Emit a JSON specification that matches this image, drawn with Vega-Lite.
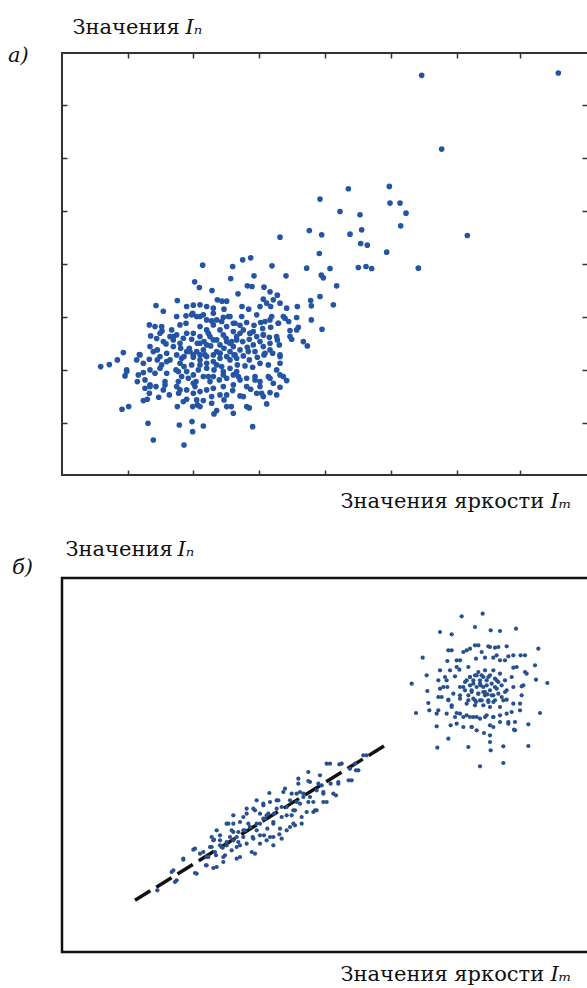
{
"$schema": "https://vega.github.io/schema/vega-lite/v6.json",
"autosize": "none",
"padding": {"left": 62, "top": 53, "right": 525, "bottom": 935},
"background": "white",
"spacing": 103,
"bounds": "flush",
"datasets": {
"a": [
{"x":108.5,"y":119.8},{"x":149.5,"y":120.5},{"x":114.5,"y":97.7},{"x":86.5,"y":85.8},{"x":98.8,"y":86.5},{"x":78,"y":82.7},{"x":99,"y":81.5},{"x":102,"y":81.5},{"x":84,"y":79},{"x":103.8,"y":78.5},{"x":90,"y":78},{"x":102.2,"y":74.7},{"x":74.8,"y":73.3},{"x":78.5,"y":72},{"x":87,"y":72.2},{"x":90.5,"y":73.5},{"x":122.2,"y":71.8},{"x":66,"y":71.3},{"x":90.2,"y":69.4},{"x":92.2,"y":68.9},{"x":77.8,"y":66.4},{"x":98,"y":66.8},
{"x":57.2,"y":65.1},{"x":54.8,"y":64.5},{"x":42.8,"y":62.9},{"x":51.8,"y":62.5},{"x":63.6,"y":62.7},{"x":74,"y":62},{"x":81,"y":61.9},{"x":89.5,"y":62.2},{"x":91.8,"y":62.5},{"x":93.5,"y":61.9},{"x":107.5,"y":62},
{"x":40.4,"y":57.9},{"x":51.2,"y":58.9},{"x":58.2,"y":59.7},{"x":67.8,"y":59.7},{"x":78.4,"y":59.9},{"x":79,"y":59.1},{"x":41.8,"y":56.2},{"x":45.6,"y":55.3},{"x":56.2,"y":56.7},{"x":57.6,"y":56.5},{"x":61.2,"y":56.3},{"x":63,"y":54.9},{"x":83,"y":56.7},{"x":53.4,"y":54.3},{"x":65.2,"y":53.9},
{"x":35.2,"y":52.3},{"x":47.2,"y":52.5},{"x":50,"y":52.1},{"x":48.6,"y":52.1},{"x":61,"y":52.7},{"x":64,"y":52.5},{"x":66,"y":51.5},{"x":68,"y":50},{"x":71.2,"y":50.5},{"x":75.4,"y":50.7},{"x":75.2,"y":52.3},{"x":78,"y":53.5},{"x":82,"y":51},{"x":28.8,"y":50.8},{"x":31,"y":49.1},{"x":38,"y":50.5},{"x":40,"y":50.9},{"x":42,"y":51},{"x":44,"y":50.5},{"x":46,"y":50},{"x":49.2,"y":49.7},{"x":54.6,"y":50.5},{"x":56.6,"y":49.7},{"x":60,"y":50.5},{"x":62,"y":51.5},{"x":63.2,"y":50.5},
{"x":26.8,"y":45},{"x":28.5,"y":44.5},{"x":30.6,"y":43.2},{"x":33.5,"y":43.5},{"x":36,"y":45},{"x":37.8,"y":45.5},{"x":39.8,"y":48.5},{"x":41,"y":47.5},{"x":43,"y":48},{"x":45.5,"y":46.2},{"x":47,"y":46.5},{"x":49,"y":47.3},{"x":51,"y":47.5},{"x":52,"y":45.5},{"x":50,"y":44.5},{"x":54,"y":44.9},{"x":56,"y":45.7},{"x":58.2,"y":44.9},{"x":60.2,"y":45.7},{"x":60.8,"y":43.9},{"x":63,"y":46.5},{"x":63.2,"y":44.3},{"x":65.5,"y":45.5},{"x":67,"y":47.5},{"x":68.6,"y":46},{"x":71,"y":47.2},{"x":71.5,"y":44.3},{"x":75.4,"y":46.5},{"x":78.6,"y":43.7},{"x":37.8,"y":47.7},{"x":42,"y":44.5},{"x":44,"y":43.5},{"x":46,"y":45},{"x":48,"y":43.5},{"x":52,"y":43},{"x":55,"y":43.5},{"x":58,"y":43},
{"x":27.2,"y":41.7},{"x":29,"y":40.9},{"x":31,"y":40},{"x":33,"y":41.5},{"x":35,"y":42},{"x":37,"y":41},{"x":39.5,"y":40.7},{"x":41.2,"y":39.5},{"x":43.2,"y":40},{"x":45,"y":41.5},{"x":47,"y":40.5},{"x":49.8,"y":41},{"x":51.5,"y":40},{"x":53,"y":40.5},{"x":54.8,"y":40},{"x":56.8,"y":40.7},{"x":59,"y":41.5},{"x":61,"y":42},{"x":62.8,"y":41.3},{"x":65.2,"y":40.5},{"x":69,"y":43.3},{"x":69.5,"y":40.7},{"x":73,"y":40},{"x":74.2,"y":38.7},{"x":27,"y":38.5},{"x":29.2,"y":37.5},{"x":31.8,"y":39.3},{"x":34,"y":38.5},{"x":36.2,"y":38},{"x":38.8,"y":38},{"x":41,"y":37},{"x":43,"y":37.5},{"x":45.2,"y":38.7},{"x":47,"y":37},{"x":49.2,"y":38},{"x":51,"y":37},{"x":54,"y":37.5},{"x":56.2,"y":38.3},{"x":58.5,"y":37},{"x":61,"y":38.5},{"x":63,"y":37.5},{"x":65.8,"y":39},{"x":19,"y":36.7},{"x":23.8,"y":36.1},
{"x":17.2,"y":34.5},{"x":14.8,"y":33.1},{"x":12.2,"y":32.5},{"x":20,"y":31},{"x":19.5,"y":29.7},{"x":23,"y":34.5},{"x":25,"y":33.5},{"x":26.8,"y":34.7},{"x":29.2,"y":34.5},{"x":30.5,"y":33},{"x":33,"y":34.5},{"x":35,"y":36},{"x":37.2,"y":35.5},{"x":40,"y":35.3},{"x":42,"y":34.5},{"x":44,"y":35.5},{"x":46,"y":34},{"x":48,"y":35},{"x":50,"y":35.5},{"x":52.2,"y":36},{"x":55,"y":35.7},{"x":56.8,"y":34.5},{"x":59.2,"y":35.3},{"x":61.2,"y":36},{"x":63.8,"y":36.5},{"x":66,"y":35.5},{"x":66,"y":33.5},{"x":27,"y":31.5},{"x":30,"y":32},{"x":32,"y":30.5},{"x":34.8,"y":31.5},{"x":37.2,"y":32.5},{"x":39.5,"y":33},{"x":41.5,"y":31.5},{"x":44,"y":32},{"x":46.2,"y":31.5},{"x":48.5,"y":32.5},{"x":51,"y":32},{"x":53.2,"y":33},{"x":55.5,"y":32.7},{"x":57.8,"y":32.3},{"x":60,"y":33.5},{"x":62.5,"y":33},{"x":65,"y":31.5},{"x":25,"y":30.7},
{"x":23.2,"y":28},{"x":25.5,"y":28.5},{"x":27,"y":27},{"x":28.8,"y":26.5},{"x":31.5,"y":28},{"x":35.5,"y":28},{"x":36.5,"y":29.5},{"x":38.5,"y":29},{"x":40.8,"y":28},{"x":43,"y":29.5},{"x":45,"y":28},{"x":47.8,"y":28.5},{"x":50,"y":29},{"x":52,"y":30},{"x":54,"y":28.5},{"x":56,"y":29},{"x":58.5,"y":29.5},{"x":60,"y":28},{"x":63,"y":29},{"x":66,"y":30},{"x":68,"y":28.3},{"x":64,"y":27.5},
{"x":25.5,"y":26},{"x":26.8,"y":24.5},{"x":29.6,"y":23.3},{"x":32.8,"y":24},{"x":35.6,"y":24.5},{"x":38,"y":25.5},{"x":40,"y":24.5},{"x":42,"y":25},{"x":44,"y":25.5},{"x":46,"y":26},{"x":48,"y":24},{"x":51.8,"y":25.3},{"x":54,"y":23.7},{"x":57.2,"y":25.7},{"x":60,"y":26.5},{"x":63,"y":24.7},{"x":66,"y":26.3},{"x":25,"y":22.3},{"x":26.2,"y":22.7},{"x":35.2,"y":20.5},{"x":38,"y":22.7},{"x":39.8,"y":20.5},{"x":41.2,"y":21},{"x":43,"y":22.3},{"x":45.5,"y":21.5},{"x":49.2,"y":22.5},{"x":51.4,"y":20.5},{"x":56.8,"y":20.1},{"x":62,"y":21.3},{"x":18.6,"y":19.7},{"x":20.6,"y":20.5},{"x":42,"y":20.5},{"x":47,"y":19.3},
{"x":46.2,"y":18.3},{"x":52,"y":18.5},{"x":26.4,"y":15.5},{"x":35.8,"y":15},{"x":39.6,"y":16},{"x":43,"y":14.7},{"x":57.8,"y":14.5},{"x":39.8,"y":13},{"x":28,"y":10.5},{"x":37.2,"y":9},
{"x":40,"y":42.5},{"x":42,"y":41.5},{"x":44,"y":39},{"x":46,"y":40.5},{"x":48,"y":39},{"x":50,"y":40},{"x":52,"y":38.5},{"x":38,"y":37},{"x":40,"y":36},{"x":42,"y":36},{"x":46,"y":36},{"x":48,"y":36.5},{"x":51,"y":34.5},{"x":53,"y":35},{"x":44,"y":33.5},{"x":42,"y":33},{"x":47,"y":33},{"x":49,"y":31},{"x":53,"y":31},{"x":36,"y":33.5},{"x":38,"y":31},{"x":40,"y":27.5},{"x":46,"y":29.5},{"x":52,"y":27},{"x":49,"y":26.5},{"x":56,"y":26.5},{"x":54,"y":42.5},{"x":57,"y":42.5},{"x":60,"y":40},{"x":58,"y":39},{"x":34,"y":40.5},{"x":32,"y":36.5},{"x":30,"y":35.5},{"x":35,"y":26.5},{"x":31,"y":25.5},{"x":59,"y":24.5},{"x":61,"y":23.5},
{"x":30.5,"y":44.5},{"x":35,"y":47.5},{"x":39.5,"y":48},{"x":42,"y":47.5},{"x":46,"y":48.5},{"x":50.5,"y":47.5},{"x":54.5,"y":47.5},{"x":59,"y":48},{"x":63.5,"y":47.5},{"x":67.5,"y":47},{"x":44,"y":46.5},{"x":48.5,"y":46},{"x":52.5,"y":45.5},{"x":61.5,"y":46},{"x":65.5,"y":45.5},
{"x":30,"y":42.5},{"x":34,"y":41.5},{"x":38,"y":42.5},{"x":42,"y":39.5},{"x":44.5,"y":42.5},{"x":49,"y":42},{"x":53,"y":41.5},{"x":57,"y":42.5},{"x":61,"y":42},{"x":65,"y":41.5},{"x":69,"y":41.5},{"x":71,"y":43.5},{"x":36,"y":39.5},{"x":51,"y":39.5},{"x":63,"y":39.5},
{"x":24,"y":36},{"x":28,"y":37},{"x":32,"y":34},{"x":36.5,"y":35},{"x":39,"y":37},{"x":43.5,"y":36},{"x":48,"y":36.5},{"x":52.5,"y":36},{"x":56.5,"y":37},{"x":61.5,"y":36.5},{"x":66,"y":36},
{"x":20,"y":31.5},{"x":23.5,"y":30},{"x":28.5,"y":30.5},{"x":35.5,"y":31},{"x":40,"y":30},{"x":44.5,"y":29.5},{"x":49,"y":30},{"x":53.5,"y":29.5},{"x":58.5,"y":28.5},{"x":62.5,"y":29.5},{"x":67,"y":29.5},
{"x":27,"y":26.5},{"x":31.5,"y":27},{"x":36,"y":25.5},{"x":40.5,"y":26.5},{"x":45.5,"y":23.5},{"x":50,"y":24},{"x":55,"y":23.5},{"x":60.5,"y":24.5},{"x":65,"y":24},{"x":41,"y":22.5},{"x":50,"y":20.5},{"x":56,"y":20.5},{"x":37,"y":22}
],
"bl": [{"x":22.5,"y":15.5},{"x":97.5,"y":62}],
"b": [
{"x":120.5,"y":100.7},{"x":126.8,"y":101.5},{"x":114,"y":96},{"x":117.5,"y":95.3},{"x":124.5,"y":97.5},{"x":129.2,"y":96.5},{"x":132,"y":96.3},{"x":136.8,"y":97},{"x":108.8,"y":88.3},{"x":105.5,"y":80.5},{"x":106.8,"y":71.7},{"x":110,"y":83},{"x":110.2,"y":78.3},{"x":110.5,"y":74.7},{"x":113,"y":71.5},{"x":113,"y":67.7},{"x":113.2,"y":61.3},{"x":116.5,"y":64},{"x":117.2,"y":68},{"x":121,"y":67.5},{"x":122.5,"y":61.5},{"x":125,"y":66.5},{"x":127.2,"y":65.7},{"x":126,"y":55.7},{"x":129,"y":63},{"x":129.2,"y":60.5},{"x":133,"y":61.7},{"x":133,"y":56.7},{"x":136.2,"y":66.7},{"x":136.5,"y":69},{"x":140.5,"y":68.3},{"x":140.5,"y":61.8},{"x":144,"y":71.7},{"x":146.2,"y":80.7},{"x":143.5,"y":91},{"x":142.5,"y":86},{"x":142.8,"y":81.7},{"x":138.2,"y":89},{"x":139.5,"y":84},{"x":138.5,"y":79.7},{"x":138,"y":74.5},{"x":136,"y":85.3},{"x":134,"y":91.7},{"x":130.5,"y":91.3},{"x":128.5,"y":91.7},{"x":125.5,"y":92},{"x":123,"y":91},{"x":121,"y":90},{"x":116.5,"y":90.5},{"x":116.2,"y":87.3},{"x":119,"y":87.5},{"x":114,"y":84.5},{"x":116,"y":81.5},{"x":113.5,"y":76.5},{"x":114,"y":79},{"x":116.2,"y":79.5},{"x":118.5,"y":82.7},{"x":119.8,"y":84.7},{"x":122.5,"y":85.5},{"x":124.8,"y":88},{"x":127.5,"y":88.3},{"x":130,"y":88.3},{"x":132,"y":87.5},{"x":134.5,"y":88.7},{"x":135.5,"y":82.5},{"x":136,"y":79.5},{"x":134,"y":75.7},{"x":132,"y":73.5},{"x":130,"y":70.5},{"x":127.5,"y":70.5},{"x":125,"y":70.5},{"x":123,"y":70.5},{"x":121,"y":70.5},{"x":119,"y":71.7},{"x":117.5,"y":74},{"x":116.5,"y":75.7},{"x":118,"y":77.5},{"x":120,"y":79.5},{"x":121.5,"y":81},{"x":123,"y":82.5},{"x":125.5,"y":84},{"x":127.5,"y":84.5},{"x":130,"y":84.5},{"x":132,"y":83.5},{"x":133.5,"y":81.5},{"x":134,"y":78.5},{"x":132.5,"y":76.5},{"x":130,"y":75},{"x":127,"y":74},{"x":124.5,"y":74},{"x":122,"y":74.5},{"x":120,"y":76},{"x":118.5,"y":70.5},{"x":116,"y":71.5},{"x":130,"y":67.5},{"x":132,"y":69},{"x":134.5,"y":69},{"x":129,"y":65},{"x":123.5,"y":67.5},{"x":135.5,"y":72},{"x":110.8,"y":72.5},
{"x":124,"y":81.5},{"x":126,"y":81.5},{"x":128,"y":81.5},{"x":129.5,"y":80.5},{"x":125,"y":79.5},{"x":127,"y":79.5},{"x":129,"y":78.5},{"x":123.5,"y":78.5},{"x":125.5,"y":77.5},{"x":127.5,"y":77},{"x":130,"y":77},{"x":124,"y":76},{"x":126,"y":75.5},{"x":128.5,"y":75.5},{"x":123,"y":80},{"x":131,"y":79},{"x":128.5,"y":82.5},{"x":126.5,"y":83},{"x":124.5,"y":83},{"x":122.5,"y":77},{"x":131.5,"y":81},{"x":127,"y":78},{"x":126.2,"y":80},{"x":128.2,"y":77.3},{"x":124.8,"y":75},{"x":130.5,"y":82},{"x":121.5,"y":78.5},{"x":129,"y":73.5},
{"x":123,"y":82.5},{"x":125,"y":83},{"x":127,"y":82.5},{"x":129,"y":83},{"x":131,"y":81.5},{"x":124,"y":80.5},{"x":126,"y":80.5},{"x":128,"y":80},{"x":130.5,"y":79.5},{"x":132.5,"y":80},{"x":123.5,"y":78},{"x":125.5,"y":77.5},{"x":127.5,"y":78},{"x":129.5,"y":77},{"x":131.5,"y":77.5},{"x":124.5,"y":75.5},{"x":126.5,"y":75.5},{"x":128.5,"y":75},{"x":130.5,"y":75.5},{"x":122.5,"y":75.5},{"x":121,"y":79.5},{"x":122,"y":81.5},{"x":133.5,"y":78},{"x":120,"y":77},{"x":133,"y":75.5},
{"x":117.5,"y":90.5},{"x":120,"y":87.5},{"x":122,"y":90.5},{"x":124.5,"y":92},{"x":126.5,"y":90},{"x":129,"y":91.5},{"x":131.5,"y":91.5},{"x":131,"y":89},{"x":133.5,"y":87.5},{"x":136,"y":89},{"x":137,"y":85.5},{"x":139.5,"y":89},{"x":140,"y":83.5},{"x":139,"y":80},{"x":138.5,"y":77},{"x":136,"y":74.5},{"x":138,"y":72.5},{"x":134,"y":71.5},{"x":132,"y":71},{"x":130,"y":70.5},{"x":128,"y":71},{"x":126,"y":70},{"x":124,"y":70.5},{"x":122,"y":71},{"x":120,"y":71.5},{"x":117.5,"y":73.5},{"x":116.5,"y":75.5},{"x":115,"y":79.5},{"x":115.5,"y":82.5},{"x":117,"y":84.5},{"x":119,"y":85.5},{"x":113.5,"y":81.5},{"x":114.5,"y":76.5},{"x":113.5,"y":72.5},{"x":119,"y":68.5},{"x":123.5,"y":67.5},{"x":129,"y":68},{"x":134.5,"y":68.5},{"x":136.5,"y":66.5},
{"x":29.2,"y":18.5},{"x":33.5,"y":24},{"x":34.5,"y":21},{"x":37,"y":27.7},{"x":40.5,"y":23.7},{"x":40,"y":30.7},{"x":43.8,"y":26},{"x":46,"y":25.2},{"x":44.5,"y":28.5},{"x":43,"y":30},{"x":45.5,"y":31.5},{"x":46.2,"y":33.7},{"x":48,"y":35},{"x":49,"y":27},{"x":49.5,"y":29},{"x":48.8,"y":31.3},{"x":50,"y":33},{"x":51,"y":34.5},{"x":52,"y":36},{"x":51.5,"y":30.5},{"x":53,"y":31.5},{"x":52,"y":38.5},{"x":53.5,"y":33},{"x":54,"y":28.5},{"x":55,"y":34.5},{"x":55.5,"y":36.5},{"x":55,"y":40.5},{"x":56,"y":43},{"x":56.5,"y":38.5},{"x":57.8,"y":34.5},{"x":57.5,"y":30},{"x":59,"y":36.5},{"x":60,"y":38.5},{"x":60,"y":41.5},{"x":61,"y":44.5},{"x":61.5,"y":40},{"x":62.2,"y":37},{"x":63,"y":34.5},{"x":64,"y":38.5},{"x":64.2,"y":41.5},{"x":62.8,"y":47.7},{"x":65,"y":43},{"x":65.5,"y":45.5},{"x":66.5,"y":40.5},{"x":67,"y":48},{"x":68,"y":43.5},{"x":69,"y":45.5},{"x":69.5,"y":41},{"x":70,"y":38.5},{"x":71,"y":47.5},{"x":71.5,"y":52},{"x":72,"y":44.5},{"x":73,"y":47.5},{"x":74,"y":42},{"x":74.5,"y":51.3},{"x":75,"y":46.5},{"x":76.5,"y":42.5},{"x":77,"y":48.5},{"x":77.5,"y":50.5},{"x":79,"y":47.5},{"x":79,"y":45},{"x":80,"y":56.5},{"x":81.2,"y":50.5},{"x":82.8,"y":47},{"x":83.8,"y":56.3},{"x":83.5,"y":51},{"x":86.6,"y":51.5},{"x":88.8,"y":54.5},{"x":88.5,"y":56.5},{"x":91,"y":59},{"x":62,"y":41},{"x":58.5,"y":42.5},{"x":57,"y":37.5},{"x":53.5,"y":36},{"x":50.5,"y":38.5},{"x":48,"y":32},{"x":46.8,"y":29},{"x":45.5,"y":34.5},{"x":60,"y":32.5},{"x":64,"y":32},{"x":61.2,"y":35},{"x":65.8,"y":35.3},{"x":69,"y":37.5},{"x":70.5,"y":42.5},{"x":72.5,"y":40.5},{"x":76,"y":45},{"x":74.5,"y":54},
{"x":52,"y":41},{"x":54,"y":39},{"x":56,"y":41.5},{"x":58,"y":43},{"x":59,"y":45.5},{"x":61,"y":44},{"x":63,"y":45},{"x":65,"y":45.5},{"x":66.5,"y":43.5},{"x":68,"y":41},{"x":70,"y":42.5},{"x":71,"y":45},{"x":73,"y":46.5},{"x":72,"y":48},{"x":74.5,"y":45},{"x":76,"y":42},{"x":77,"y":42.5},{"x":79,"y":48},{"x":80,"y":45},{"x":82,"y":47.5},{"x":50,"y":38.5},{"x":51.5,"y":36.5},{"x":53,"y":34.5},{"x":55,"y":36.5},{"x":57,"y":37.5},{"x":59,"y":38.5},{"x":61,"y":40},{"x":62.5,"y":41.5},{"x":64,"y":39},{"x":66,"y":37},{"x":68,"y":36.5},{"x":70.5,"y":38},{"x":72.5,"y":38.5},{"x":47,"y":36.5},{"x":46,"y":33.5},{"x":48,"y":33.5},{"x":50,"y":32},{"x":52,"y":33.5},{"x":54,"y":32},{"x":56,"y":32.5},{"x":58,"y":34},{"x":60,"y":35},{"x":62,"y":33.5},{"x":64,"y":34.5},{"x":66.5,"y":34},{"x":45,"y":31.5},{"x":46.5,"y":30},{"x":49,"y":28.5},{"x":53,"y":28},{"x":58.5,"y":29.5},{"x":42,"y":29.5},{"x":44,"y":28.5},{"x":40.5,"y":31},{"x":37,"y":28},{"x":41,"y":23.5},{"x":44,"y":26},{"x":47,"y":25.5},{"x":34,"y":24.5},{"x":35,"y":21.5},{"x":67.5,"y":49},{"x":69.5,"y":47.5},{"x":71.5,"y":50.5},{"x":75,"y":51},{"x":78,"y":53},{"x":78.5,"y":50},{"x":81,"y":56.5},{"x":84.5,"y":56.5},{"x":87,"y":55},{"x":87.5,"y":51.5},{"x":83.5,"y":50.5},{"x":89.5,"y":54.5},{"x":92,"y":59}
]
},
"vconcat": [
{
"width": 528, "height": 422,
"view": {"stroke": "#333333", "strokeWidth": 2},
"title": {"text": "а)", "anchor": "start", "frame": "group", "orient": "top", "offset": 0, "dx": -54, "dy": 67, "font": "DejaVu Serif", "fontStyle": "italic", "fontSize": 21, "fontWeight": "normal", "baseline": "alphabetic", "color": "#111111"},
"resolve": {"axis": {"x": "independent", "y": "independent"}},
"layer": [
{"data": {"name": "a"}, "mark": {"type": "circle", "size": 32, "color": "#2354a5", "opacity": 1},
 "encoding": {
  "x": {"field": "x", "type": "quantitative", "scale": {"domain": [0.6, 159], "nice": false, "zero": false},
   "axis": {"orient": "bottom", "values": [20.5, 40, 59.8, 79.5, 99.2, 119, 138], "tickSize": -5, "tickColor": "#333333", "tickWidth": 1.5, "title": "Значения яркости", "titleX": 278, "titleY": 32, "titleAlign": "left", "titleBaseline": "alphabetic", "titleAnchor": "start"}},
  "y": {"field": "y", "type": "quantitative", "scale": {"domain": [0, 126.5], "nice": false, "zero": false},
   "axis": {"orient": "left", "values": [15.5, 31.5, 47.5, 63.2, 79.2, 95, 110.8], "tickSize": -5, "tickColor": "#333333", "tickWidth": 1.5, "title": "Значения", "titleAngle": 0, "titleX": 10, "titleY": -20, "titleAlign": "left", "titleBaseline": "alphabetic"}}
 }},
{"data": {"name": "a"}, "mark": {"type": "circle", "size": 0, "opacity": 0},
 "encoding": {
  "x": {"field": "x", "type": "quantitative", "scale": {"domain": [0.6, 159], "nice": false, "zero": false},
   "axis": {"orient": "top", "values": [20.5, 40, 59.8, 79.5, 99.2, 119, 138], "tickSize": -5, "tickColor": "#333333", "tickWidth": 1.5, "title": "Iₘ", "titleFontStyle": "italic", "titleX": 488, "titleY": 454, "titleAlign": "left", "titleBaseline": "alphabetic", "titleAnchor": "start"}},
  "y": {"field": "y", "type": "quantitative", "scale": {"domain": [0, 126.5], "nice": false, "zero": false},
   "axis": {"orient": "right", "values": [15.5, 31.5, 47.5, 63.2, 79.2, 95, 110.8], "tickSize": -8, "tickColor": "#333333", "tickWidth": 1.5, "title": "Iₙ", "titleFontStyle": "italic", "titleAngle": 0, "titleX": -405, "titleY": -20, "titleAlign": "left", "titleBaseline": "alphabetic"}}
 }}
]
},
{
"width": 528, "height": 374,
"view": {"stroke": "#111111", "strokeWidth": 2.5},
"title": {"text": "б)", "anchor": "start", "frame": "group", "orient": "top", "offset": 0, "dx": -50, "dy": 57, "font": "DejaVu Serif", "fontStyle": "italic", "fontSize": 21, "fontWeight": "normal", "baseline": "alphabetic", "color": "#111111"},
"resolve": {"axis": {"x": "independent", "y": "independent"}},
"layer": [
{"data": {"name": "bl"}, "mark": {"type": "line", "color": "#111111", "strokeWidth": 3.5, "strokeDash": [18, 7], "strokeCap": "butt"},
 "encoding": {
  "x": {"field": "x", "type": "quantitative", "scale": {"domain": [0.6, 159], "nice": false, "zero": false},
   "axis": {"orient": "bottom", "ticks": false, "title": "Значения яркости", "titleX": 278, "titleY": 28, "titleAlign": "left", "titleBaseline": "alphabetic", "titleAnchor": "start"}},
  "y": {"field": "y", "type": "quantitative", "scale": {"domain": [0, 112.2], "nice": false, "zero": false},
   "axis": {"orient": "left", "ticks": false, "title": "Значения", "titleAngle": 0, "titleX": 3, "titleY": -23, "titleAlign": "left", "titleBaseline": "alphabetic"}}
 }},
{"data": {"name": "b"}, "mark": {"type": "circle", "size": 18, "color": "#27508f", "opacity": 1},
 "encoding": {
  "x": {"field": "x", "type": "quantitative", "scale": {"domain": [0.6, 159], "nice": false, "zero": false},
   "axis": {"orient": "top", "ticks": false, "title": "Iₘ", "titleFontStyle": "italic", "titleX": 488, "titleY": 402, "titleAlign": "left", "titleBaseline": "alphabetic", "titleAnchor": "start"}},
  "y": {"field": "y", "type": "quantitative", "scale": {"domain": [0, 112.2], "nice": false, "zero": false},
   "axis": {"orient": "right", "ticks": false, "title": "Iₙ", "titleFontStyle": "italic", "titleAngle": 0, "titleX": -413, "titleY": -23, "titleAlign": "left", "titleBaseline": "alphabetic"}}
 }}
]
}
],
"config": {
 "axis": {"grid": false, "labels": false, "domain": false, "titleFont": "DejaVu Serif", "titleFontSize": 21, "titleFontWeight": "normal", "titleColor": "#111111", "titlePadding": 0},
 "title": {"font": "DejaVu Serif"}
}
}
